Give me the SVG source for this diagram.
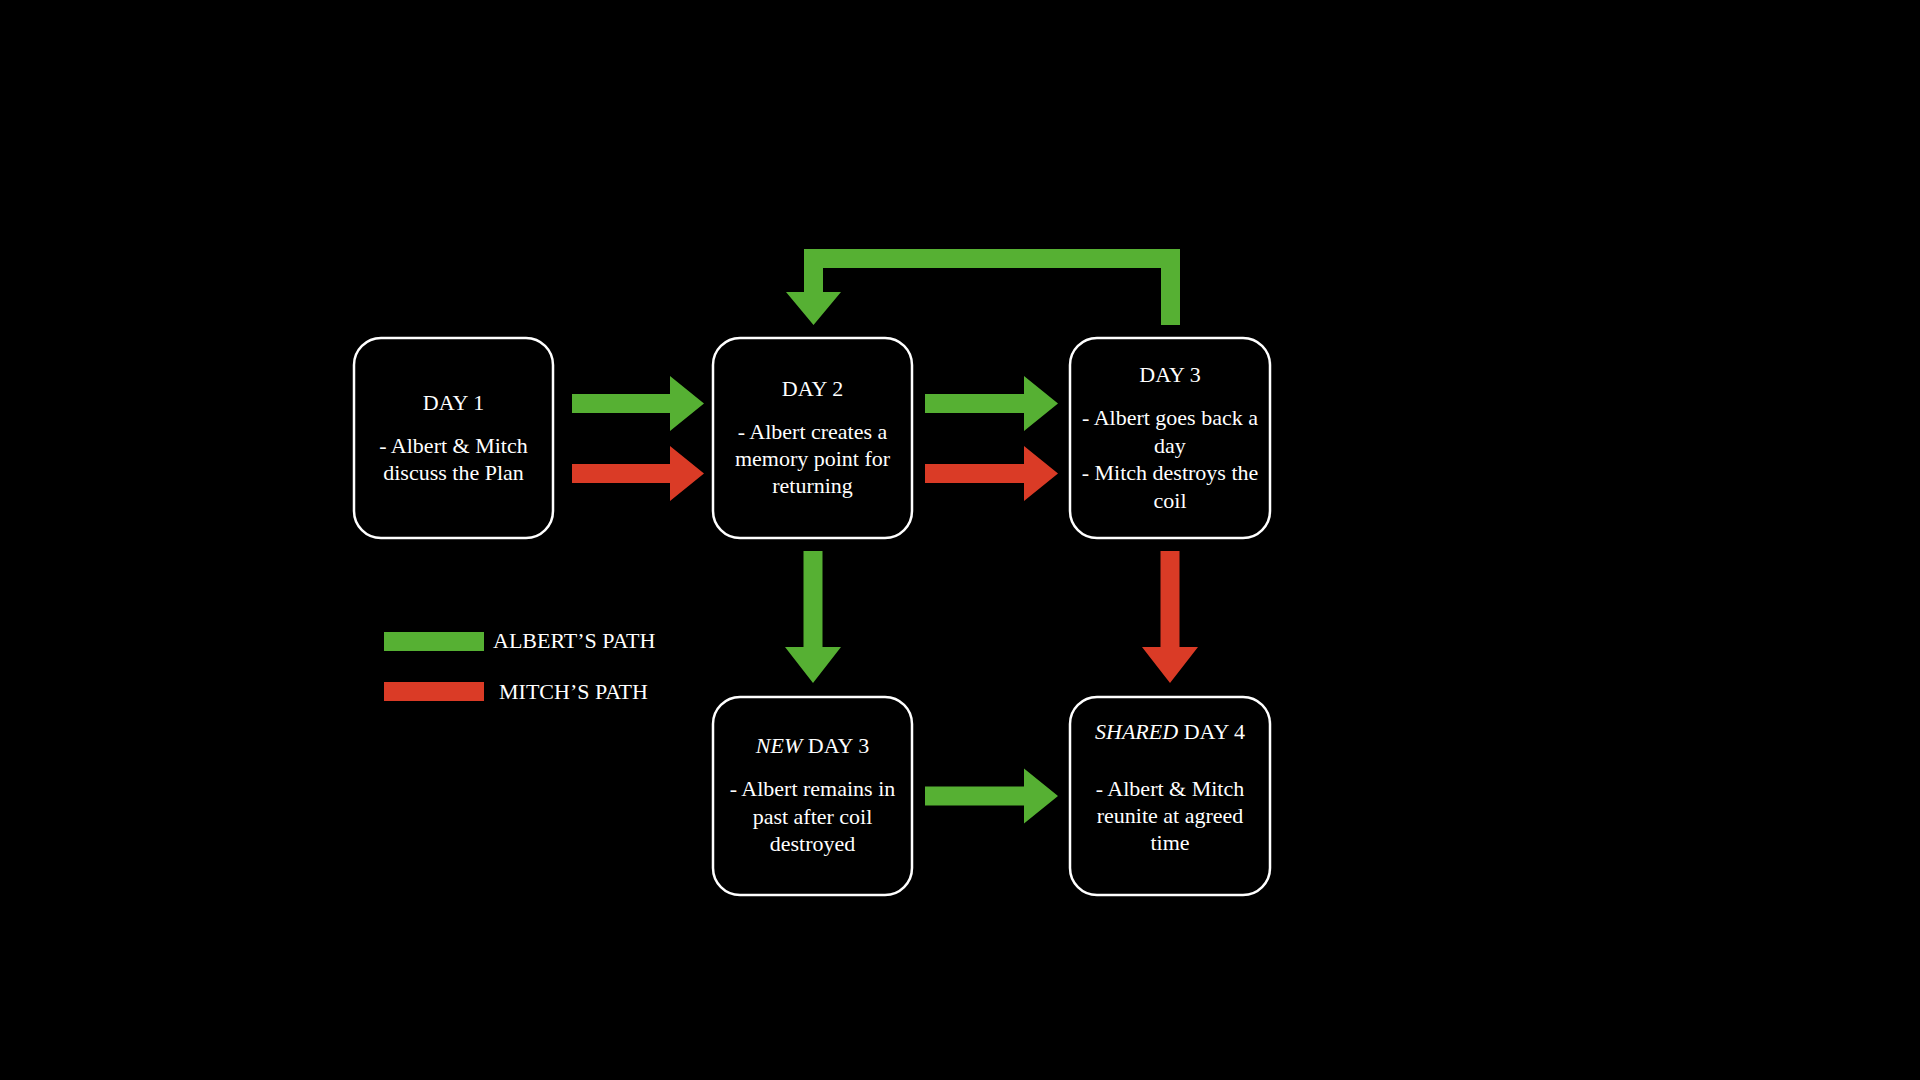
<svg xmlns="http://www.w3.org/2000/svg" width="1920" height="1080" viewBox="0 0 1920 1080">
<style>
.box{fill:#000;stroke:#fff;stroke-width:2.5}
.t{font-family:"Liberation Serif","Times New Roman",serif;font-size:22px;fill:#fff;text-anchor:middle}
.lg{font-family:"Liberation Serif","Times New Roman",serif;font-size:22px;fill:#fff}
.g{fill:#56B033}
.r{fill:#DA3B26}
</style>
<rect width="1920" height="1080" fill="#000"/>
<g id="connectors">
  <polygon class="g" points="572,394 670,394 670,376 704,403.5 670,431 670,413 572,413"/>
  <polygon class="r" points="572,464 670,464 670,446 704,473.5 670,501 670,483 572,483"/>
  <polygon class="g" points="925,394 1024,394 1024,376 1058,403.5 1024,431 1024,413 925,413"/>
  <polygon class="r" points="925,464 1024,464 1024,446 1058,473.5 1024,501 1024,483 925,483"/>
  <polygon class="g" points="925,786.5 1024,786.5 1024,768.5 1058,796 1024,823.5 1024,805.5 925,805.5"/>
  <polygon class="g" points="803.5,551 822.5,551 822.5,647 841,647 813,683 785,647 803.5,647"/>
  <polygon class="r" points="1160.5,551 1179.5,551 1179.5,647 1198,647 1170,683 1142,647 1160.5,647"/>
  <polygon class="g" points="1180,325 1180,249 804,249 804,292 786,292 813.5,325 841,292 823,292 823,268 1161,268 1161,325"/>
</g>
<g id="day1">
  <rect class="box" x="354" y="338" width="199" height="200" rx="27"/>
  <text class="t" x="453.5" y="410">DAY 1</text>
  <text class="t" x="453.5" y="453">- Albert &amp; Mitch</text>
  <text class="t" x="453.5" y="480">discuss the Plan</text>
</g>
<g id="day2">
  <rect class="box" x="713" y="338" width="199" height="200" rx="27"/>
  <text class="t" x="812.5" y="396">DAY 2</text>
  <text class="t" x="812.5" y="439">- Albert creates a</text>
  <text class="t" x="812.5" y="466">memory point for</text>
  <text class="t" x="812.5" y="493">returning</text>
</g>
<g id="day3">
  <rect class="box" x="1070" y="338" width="200" height="200" rx="27"/>
  <text class="t" x="1170" y="382">DAY 3</text>
  <text class="t" x="1170" y="425">- Albert goes back a</text>
  <text class="t" x="1170" y="452.5">day</text>
  <text class="t" x="1170" y="480">- Mitch destroys the</text>
  <text class="t" x="1170" y="507.5">coil</text>
</g>
<g id="newday3">
  <rect class="box" x="713" y="697" width="199" height="198" rx="27"/>
  <text class="t" x="812.5" y="753"><tspan font-style="italic">NEW</tspan> DAY 3</text>
  <text class="t" x="812.5" y="796">- Albert remains in</text>
  <text class="t" x="812.5" y="823.5">past after coil</text>
  <text class="t" x="812.5" y="851">destroyed</text>
</g>
<g id="sharedday4">
  <rect class="box" x="1070" y="697" width="200" height="198" rx="27"/>
  <text class="t" x="1170" y="739"><tspan font-style="italic">SHARED</tspan> DAY 4</text>
  <text class="t" x="1170" y="796">- Albert &amp; Mitch</text>
  <text class="t" x="1170" y="823">reunite at agreed</text>
  <text class="t" x="1170" y="850">time</text>
</g>
<g id="legend">
  <rect class="g" x="384" y="632" width="100" height="19"/>
  <text class="lg" x="493" y="648">ALBERT’S PATH</text>
  <rect class="r" x="384" y="682" width="100" height="19"/>
  <text class="lg" x="499" y="699">MITCH’S PATH</text>
</g>
</svg>
